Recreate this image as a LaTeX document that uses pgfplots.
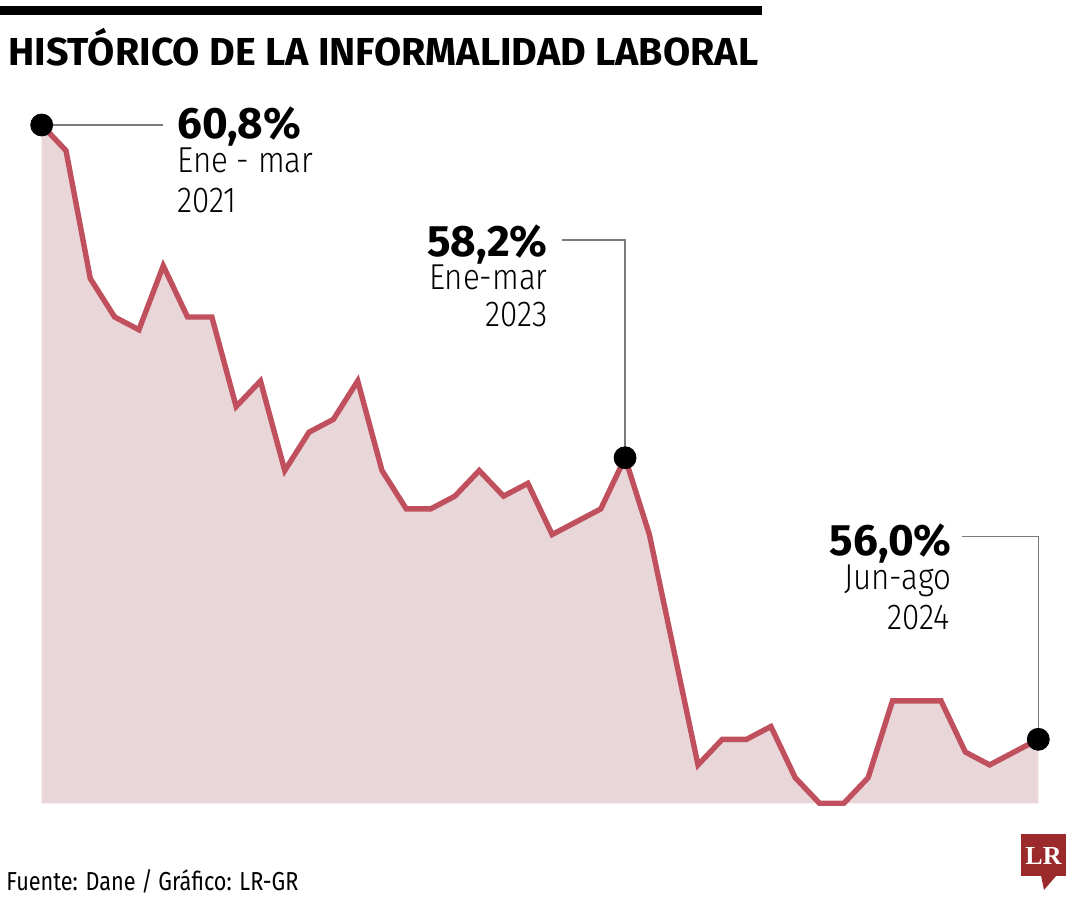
\documentclass[border=0pt]{standalone}
\usepackage{graphicx}
\usepackage{pgfplots}
\pgfplotsset{compat=1.18}
\usepackage{pgfplotstable}
\usepackage{fontspec}
\setmainfont{Fira Sans}
\newfontfamily\lightfont{Fira Sans Light}
\newfontfamily\logofont{Liberation Serif}
\definecolor{linered}{HTML}{C1505F}
\definecolor{areapink}{HTML}{E9D6D8}
\definecolor{leader}{HTML}{7A7A7A}
\definecolor{logored}{HTML}{9C2A2C}
\newcommand\bignum[1]{\raisebox{0pt}[\height][0pt]{\fontsize{22bp}{24bp}\selectfont\bfseries #1}}
\newcommand\lt[1]{\scalebox{0.87}[1]{\lightfont\fontsize{18bp}{20bp}\selectfont #1}}
\pgfplotstableread{
x y
0 60.8
1 60.6
2 59.6
3 59.3
4 59.2
5 59.7
6 59.3
7 59.3
8 58.6
9 58.8
10 58.1
11 58.4
12 58.5
13 58.8
14 58.1
15 57.8
16 57.8
17 57.9
18 58.1
19 57.9
20 58.0
21 57.6
22 57.7
23 57.8
24 58.2
25 57.6
26 56.7
27 55.8
28 56.0
29 56.0
30 56.1
31 55.7
32 55.5
33 55.5
34 55.7
35 56.3
36 56.3
37 56.3
38 55.9
39 55.8
40 55.9
41 56.0
}\datatable
\begin{document}
\begin{tikzpicture}
\path[use as bounding box] (0,0) rectangle (540bp,450bp);
\begin{axis}[at={(20.85bp,48.35bp)}, anchor=south west, scale only axis,
  width=498.3bp, height=339.15bp, xmin=0, xmax=41, ymin=55.5, ymax=60.8,
  axis lines=none, clip=false]
\addplot[fill=areapink, draw=none] table[x=x,y=y] {\datatable} -- (axis cs:41,55.5) -- (axis cs:0,55.5) -- cycle;
\addplot[linered, line width=2.7bp] table[x=x,y=y] {\datatable};
\draw[leader, line width=0.75bp] (axis cs:0,60.8) -- (axis cs:4.99,60.8);
\draw[leader, line width=0.75bp] (axis cs:24,58.2) |- (axis cs:21.40,59.90);
\draw[leader, line width=0.75bp] (axis cs:41,56.0) |- (axis cs:37.86,57.585);
\addplot[only marks, mark=*, mark size=5.5bp, black] coordinates {(0,60.8) (24,58.2) (41,56.0)};
\end{axis}
\begin{scope}[x=0.5bp, y=-0.5bp, shift={(0,450bp)}]
\fill[black] (0,6.5) rectangle (762,15);
\node[anchor=base west, inner sep=0] at (8,66) {\resizebox{375bp}{\height}{\fontsize{19.5bp}{20bp}\selectfont\bfseries HISTÓRICO DE LA INFORMALIDAD LABORAL}};
\node[anchor=base west, inner sep=0] at (177,139) {\bignum{60,8\%}};
\node[anchor=base west, inner sep=0] at (177,173) {\lt{Ene - mar}};
\node[anchor=base west, inner sep=0] at (177,213) {\lt{2021}};
\node[anchor=base east, inner sep=0] at (548,257) {\bignum{58,2\%}};
\node[anchor=base east, inner sep=0] at (548,290) {\lt{Ene-mar}};
\node[anchor=base east, inner sep=0] at (548,327) {\lt{2023}};
\node[anchor=base east, inner sep=0] at (952,556) {\bignum{56,0\%}};
\node[anchor=base east, inner sep=0] at (952,590) {\lt{Jun-ago}};
\node[anchor=base east, inner sep=0] at (950,630) {\lt{2024}};
\node[anchor=base west, inner sep=0] at (6,891) {\resizebox{146bp}{\height}{\fontsize{13bp}{14bp}\selectfont Fuente: Dane / Gráfico: LR-GR}};
\fill[logored] (1021,834) rectangle (1066,876);
\fill[logored] (1041,875) -- (1057,875) -- (1044,890) -- cycle;
\node[white, inner sep=0] at (1043.5,856) {\logofont\bfseries\fontsize{13bp}{13bp}\selectfont LR};
\end{scope}
\end{tikzpicture}
\end{document}
